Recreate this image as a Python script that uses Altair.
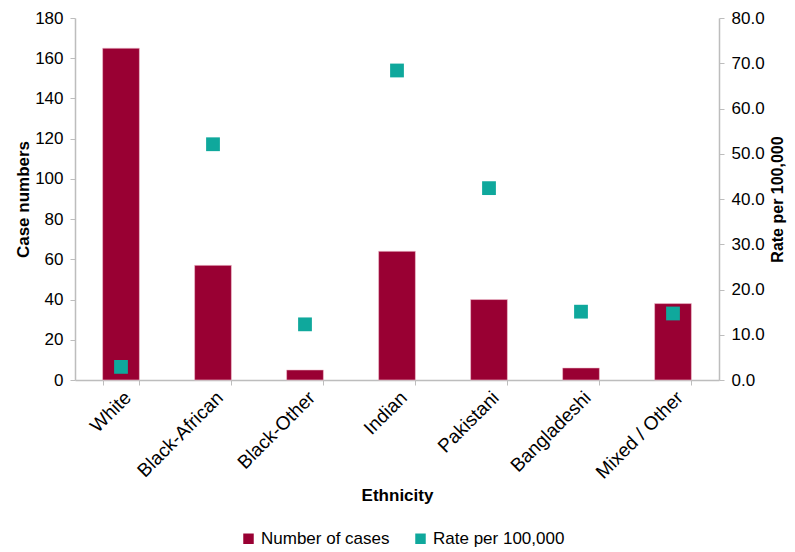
import altair as alt
import pandas as pd

categories = ["White", "Black-African", "Black-Other", "Indian", "Pakistani", "Bangladeshi", "Mixed / Other"]
cases = [165, 57, 5, 64, 40, 6, 38]
rates = [2.9, 52.1, 12.3, 68.4, 42.4, 15.1, 14.7]

df = pd.DataFrame({"Ethnicity": categories, "cases": cases, "rate": rates})

FONT = "Liberation Sans"
BAR = "#990033"
TEAL = "#0FA89C"
AXC = "#BDBDBD"
FS = 17

color_scale = alt.Scale(domain=["Number of cases", "Rate per 100,000"], range=[BAR, TEAL])

x = alt.X(
    "Ethnicity:N",
    sort=categories,
    scale=alt.Scale(paddingInner=0.6, paddingOuter=0.3),
    axis=alt.Axis(
        title="Ethnicity",
        labelAngle=-45,
        labelFontSize=19,
        tickBand="extent",
        tickSize=5,
        labelPadding=3,
        titlePadding=5,
        grid=False,
    ),
)

legend = alt.Legend(title=None, orient="none", direction="horizontal",
                    legendX=165, legendY=512, symbolType="square",
                    symbolSize=110, columnPadding=22, labelFontSize=FS,
                    labelFont=FONT, symbolStrokeWidth=0, labelOffset=4)

bars = alt.Chart(df).transform_calculate(series="'Number of cases'").mark_bar(
    stroke="#F2C6D4", strokeWidth=0.6
).encode(
    x=x,
    y=alt.Y(
        "cases:Q",
        scale=alt.Scale(domain=[0, 180], nice=False),
        axis=alt.Axis(title="Case numbers", values=list(range(0, 181, 20)), orient="left",
                      tickSize=5, grid=False, titlePadding=2, labelPadding=7),
    ),
    color=alt.Color("series:N", scale=color_scale, legend=legend),
)

points = alt.Chart(df).transform_calculate(series="'Rate per 100,000'").mark_point(
    shape="square", filled=True, size=190, opacity=1
).encode(
    x=x,
    y=alt.Y(
        "rate:Q",
        scale=alt.Scale(domain=[0, 80], nice=False),
        axis=alt.Axis(title="Rate per 100,000", values=list(range(0, 81, 10)), format=".1f",
                      orient="right", tickSize=5, grid=False, titleAngle=270,
                      titleFontSize=16, titleBaseline="top", titlePadding=5, labelPadding=7),
    ),
    color=alt.Color("series:N", scale=color_scale, legend=legend),
)

chart = (
    alt.layer(bars, points)
    .resolve_scale(y="independent")
    .properties(
        width=644,
        height=362,
        autosize=alt.AutoSizeParams(type="none"),
        padding={"left": 67, "top": 10, "right": 68, "bottom": 172},
    )
    .configure_view(stroke=None)
    .configure_axis(
        labelFont=FONT, titleFont=FONT, labelFontSize=FS, titleFontSize=FS,
        titleFontWeight="bold", labelColor="#000000", titleColor="#000000",
        domainColor=AXC, tickColor=AXC, domainWidth=1.5,
    )
)

chart.save("out.html", embed_options={"renderer": "svg", "actions": False})
